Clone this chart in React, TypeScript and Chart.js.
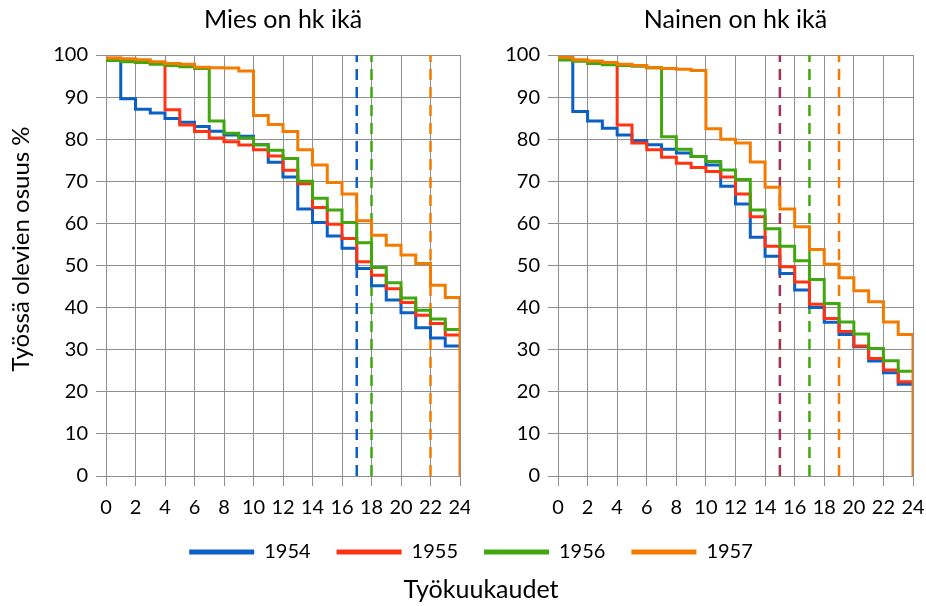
import React, { useEffect, useRef } from "react";
import { Chart, registerables } from "chart.js";
Chart.register(...registerables);

const FONT = "Lato, 'Open Sans', sans-serif";
const GRID = "#8f8f8f";

const months = [0, 1, 2, 3, 4, 5, 6, 7, 8, 9, 10, 11, 12, 13, 14, 15, 16, 17, 18, 19, 20, 21, 22, 23, 24];
const seriesLabels = ["1954", "1955", "1956", "1957"];
const seriesColors = ["#0a60c6", "#ff3212", "#40a80c", "#f57b00"];

// Mies on hk ikä
const men1954 = [99.0, 89.6, 87.1, 86.2, 84.9, 84.0, 83.0, 81.9, 81.0, 80.7, 78.7, 74.5, 71.0, 63.4, 60.2, 57.0, 54.1, 49.3, 45.2, 41.8, 38.8, 35.2, 32.8, 30.9, 30.9];
const men1955 = [99.2, 98.8, 98.5, 98.0, 87.0, 83.4, 81.8, 80.3, 79.4, 78.6, 77.5, 76.0, 72.6, 69.4, 63.8, 59.8, 56.4, 50.9, 47.7, 44.5, 41.2, 38.2, 36.2, 33.5, 33.5];
const men1956 = [98.7, 98.4, 98.2, 97.8, 97.5, 97.2, 96.8, 84.3, 81.4, 80.3, 78.7, 77.4, 75.4, 70.0, 66.0, 63.2, 60.2, 55.4, 49.5, 45.9, 42.3, 39.4, 37.3, 34.8, 34.8];
const men1957 = [99.3, 99.1, 98.9, 98.4, 98.0, 97.8, 97.1, 97.0, 96.9, 96.2, 85.6, 83.5, 81.8, 77.5, 73.9, 69.7, 67.0, 60.6, 57.2, 54.8, 52.5, 50.5, 45.3, 42.4, 0];
const menLimits = [17, 18, 22];
const menLimitColors = ["#0a60c6", "#40a80c", "#f57b00"];

// Nainen on hk ikä
const women1954 = [99.0, 86.6, 84.3, 82.6, 81.0, 79.7, 78.7, 77.6, 76.7, 75.9, 73.9, 68.8, 64.6, 56.7, 52.2, 48.1, 44.2, 40.0, 36.5, 33.6, 30.7, 27.3, 24.5, 21.8, 21.8];
const women1955 = [99.2, 98.7, 98.3, 97.9, 83.4, 79.1, 77.5, 75.7, 74.3, 73.3, 72.3, 71.0, 67.0, 61.6, 54.6, 49.7, 46.1, 40.8, 37.4, 34.3, 30.9, 27.9, 25.2, 22.4, 22.4];
const women1956 = [98.8, 98.5, 98.0, 97.7, 97.5, 97.3, 97.0, 80.6, 77.6, 75.9, 74.7, 72.7, 70.4, 63.2, 58.7, 54.6, 51.1, 46.7, 41.0, 36.6, 33.7, 30.3, 27.4, 24.9, 24.9];
const women1957 = [99.4, 98.9, 98.6, 98.2, 97.8, 97.5, 97.0, 96.8, 96.6, 96.3, 82.5, 80.0, 79.1, 74.6, 68.6, 63.4, 59.2, 53.8, 50.3, 47.1, 44.0, 41.4, 36.6, 33.6, 0];
const womenLimits = [15, 17, 19];
const womenLimitColors = ["#a2334e", "#40a80c", "#f57b00"];

const xTickStep = 2;
const yTickStep = 10;
const yAxisTitle = "Työssä olevien osuus %";
const xAxisTitle = "Työkuukaudet";

// draws the rotated y-axis title at a chosen spot
const yTitlePlugin = {
  id: "yTitleText",
  afterDraw(chart: any, _args: any, opts: any) {
    if (!opts || !opts.text) return;
    const ctx = chart.ctx;
    ctx.save();
    ctx.translate(opts.x, opts.y);
    ctx.rotate(-Math.PI / 2);
    ctx.font = `${opts.size}px ${FONT}`;
    ctx.fillStyle = "#000";
    ctx.textAlign = "center";
    ctx.textBaseline = "middle";
    ctx.fillText(opts.text, 0, 0);
    ctx.restore();
  },
};

function buildDatasets(series: number[][], limits: number[], limitColors: string[]) {
  const ds: any[] = series.map((vals, i) => ({
    label: seriesLabels[i],
    data: months.map((m, k) => ({ x: m, y: vals[k] })),
    borderColor: seriesColors[i],
    backgroundColor: seriesColors[i],
    borderWidth: 3,
    stepped: "before",
    pointRadius: 0,
    fill: false,
    order: 4 - i,
  }));
  limits.forEach((lx, j) => {
    ds.push({
      label: "limit" + j,
      data: [{ x: lx, y: 0 }, { x: lx, y: 100 }],
      borderColor: limitColors[j],
      borderWidth: 2.5,
      borderDash: [11, 7],
      pointRadius: 0,
      fill: false,
      order: 10,
    });
  });
  return ds;
}

function panelConfig(title: string, series: number[][], limits: number[], limitColors: string[], yWidth: number, rightPad: number, yTitle: string | null) {
  return {
    type: "line" as const,
    data: { datasets: buildDatasets(series, limits, limitColors) },
    plugins: [yTitlePlugin],
    options: {
      animation: false,
      responsive: false,
      layout: { padding: { left: 0, right: rightPad, top: 0, bottom: 0 } },
      plugins: {
        legend: { display: false },
        tooltip: { enabled: false },
        title: {
          display: true,
          text: title,
          fullSize: false,
          color: "#000",
          font: { family: FONT, size: 25, weight: "normal" },
          padding: { top: 5, bottom: 20 },
        },
        yTitleText: yTitle ? { text: yTitle, x: 21, y: 249, size: 24 } : { text: "" },
      },
      scales: {
        x: {
          type: "linear",
          min: 0,
          max: 24,
          ticks: { stepSize: xTickStep, color: "#000", font: { family: FONT, size: 20 }, padding: 10, maxRotation: 0, autoSkip: false },
          grid: { color: GRID, lineWidth: 1, tickLength: 10 },
          border: { color: GRID, width: 1 },
          afterFit: (s: any) => { s.height = 44; s.paddingLeft = 0; s.paddingRight = 0; },
        },
        y: {
          min: 0,
          max: 100,
          ticks: { stepSize: yTickStep, color: "#000", font: { family: FONT, size: 20 }, padding: 8 },
          grid: { color: GRID, lineWidth: 1, tickLength: 10 },
          border: { color: GRID, width: 1 },
          afterFit: (s: any) => { s.width = yWidth; s.paddingTop = 0; s.paddingBottom = 0; },
        },
      },
    },
  };
}

function legendConfig() {
  return {
    type: "line" as const,
    data: {
      datasets: seriesLabels.map((l, i) => ({
        label: l,
        data: [],
        borderColor: seriesColors[i],
        backgroundColor: seriesColors[i],
        borderWidth: 0,
      })),
    },
    options: {
      animation: false,
      responsive: false,
      layout: { padding: { left: 16, top: 0, bottom: 0 } },
      scales: { x: { display: false }, y: { display: false } },
      plugins: {
        tooltip: { enabled: false },
        title: { display: false },
        legend: {
          display: true,
          position: "top",
          maxHeight: 200,
          labels: { boxWidth: 65, boxHeight: 5, padding: 26, color: "#000", font: { family: FONT, size: 20 } },
        },
      },
    },
  };
}

function xTitleConfig() {
  return {
    type: "line" as const,
    data: { datasets: [] },
    options: {
      animation: false,
      responsive: false,
      layout: { padding: { left: 36, top: 0, bottom: 0 } },
      scales: { x: { display: false }, y: { display: false } },
      plugins: {
        tooltip: { enabled: false },
        legend: { display: false },
        title: {
          display: true,
          position: "top",
          text: xAxisTitle,
          color: "#000",
          font: { family: FONT, size: 25, weight: "normal" },
          padding: { top: 3, bottom: 0 },
        },
      },
    },
  };
}

function useChart(ref: React.RefObject<HTMLCanvasElement>, make: () => any) {
  useEffect(() => {
    if (!ref.current) return;
    const c = new Chart(ref.current, make());
    return () => c.destroy();
  }, []);
}

export default function App() {
  const leftRef = useRef<HTMLCanvasElement>(null);
  const rightRef = useRef<HTMLCanvasElement>(null);
  const legRef = useRef<HTMLCanvasElement>(null);
  const titleRef = useRef<HTMLCanvasElement>(null);

  useChart(leftRef, () =>
    panelConfig("Mies on hk ikä", [men1954, men1955, men1956, men1957], menLimits, menLimitColors, 106, 10, yAxisTitle)
  );
  useChart(rightRef, () =>
    panelConfig("Nainen on hk ikä", [women1954, women1955, women1956, women1957], womenLimits, womenLimitColors, 88, 13, null)
  );
  useChart(legRef, legendConfig);
  useChart(titleRef, xTitleConfig);

  return (
    <div style={{ position: "absolute", left: 0, top: 0, width: 926, height: 606, background: "#fff", overflow: "hidden" }}>
      <canvas ref={leftRef} width={470} height={520} style={{ position: "absolute", left: 0, top: 0, width: 470, height: 520 }} />
      <canvas ref={rightRef} width={456} height={520} style={{ position: "absolute", left: 470, top: 0, width: 456, height: 520 }} />
      <canvas ref={legRef} width={926} height={72} style={{ position: "absolute", left: 0, top: 516, width: 926, height: 72 }} />
      <canvas ref={titleRef} width={926} height={34} style={{ position: "absolute", left: 0, top: 572, width: 926, height: 34 }} />
    </div>
  );
}
